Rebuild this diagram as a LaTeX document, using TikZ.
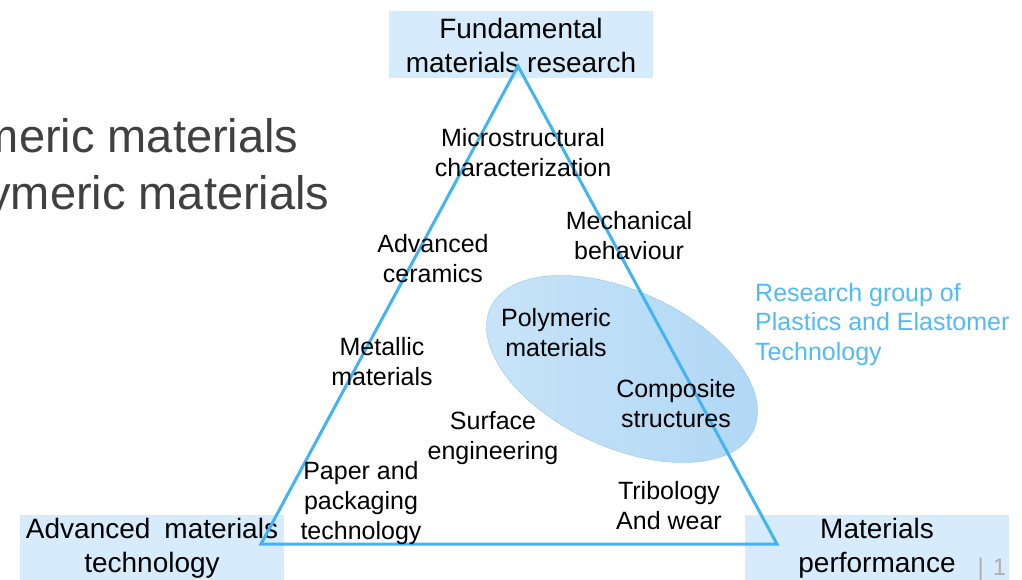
\documentclass[tikz,border=0pt]{standalone}
\usepackage{fontspec}
\setmainfont{Liberation Sans}
\usetikzlibrary{shapes.geometric, positioning}
\definecolor{TriBlue}{RGB}{66, 180, 243}
\definecolor{BoxBlue}{RGB}{214, 236, 252}
\definecolor{EllLight}{RGB}{200, 228, 248}
\definecolor{EllDark}{RGB}{176, 215, 245}
\definecolor{EllLine}{RGB}{145, 199, 238}
\definecolor{GroupBlue}{RGB}{82, 186, 246}
\definecolor{SlideGray}{RGB}{64, 64, 64}
\definecolor{PageGray}{RGB}{175, 175, 175}

\begin{document}
\begin{tikzpicture}[x=1pt, y=-1pt,
  cornerbox/.style={fill=BoxBlue, inner sep=0pt, minimum width=264pt, minimum height=67pt, align=center, font=\fontsize{28}{34}\selectfont},
  field/.style={align=center, font=\fontsize{25}{30}\selectfont}]
\clip (0,0) rectangle (1022,580);
\fill[white] (0,0) rectangle (1022,580);

\node[anchor=base east, text=SlideGray, font=\fontsize{47}{57}\selectfont] (title1) at (302,153) {meric materials};
\node[anchor=base east, text=SlideGray, font=\fontsize{47}{57}\selectfont] (title2) at (333,210) {ymeric materials};

\node[cornerbox] (research) at (521,45) {Fundamental\\materials research};
\node[cornerbox] (technology) at (152,548) {Advanced\enspace materials\\technology};
\node[cornerbox] (performance) at (877,548) {Materials\\performance};

\node[ellipse, draw=EllLine, left color=EllLight, right color=EllDark, inner sep=0pt, minimum width=290pt, minimum height=156pt, rotate=-25] (group) at (622,369) {};

\coordinate (apex) at (518,66);
\coordinate (lcorner) at (261,544);
\coordinate (rcorner) at (777,544);
\draw[TriBlue, line width=3pt] (apex) -- (rcorner) -- (lcorner) -- cycle;

\node[field] (micro) at (523,153) {Microstructural\\characterization};
\node[field] (mech) at (629,236) {Mechanical\\behaviour};
\node[field] (ceramics) at (433,259) {Advanced\\ceramics};
\node[field] (polymeric) at (556,333) {Polymeric\\materials};
\node[field] (metallic) at (382,362) {Metallic\\materials};
\node[field] (composite) at (676,404) {Composite\\structures};
\node[field] (surface) at (493,438) {Surface\\engineering};
\node[field] (paper) at (361,503) {Paper and\\packaging\\technology};
\node[field] (tribology) at (669,506) {Tribology\\And wear};

\node[anchor=north west, align=left, text=GroupBlue, inner sep=0pt, font=\fontsize{25}{29.5}\selectfont] (groupname) at (755,283) {Research group of\\Plastics and Elastomer\\Technology};

\node[text=PageGray, font=\fontsize{24}{29}\selectfont] (page) at (992,569) {|\hspace{9pt}1};
\end{tikzpicture}
\end{document}
